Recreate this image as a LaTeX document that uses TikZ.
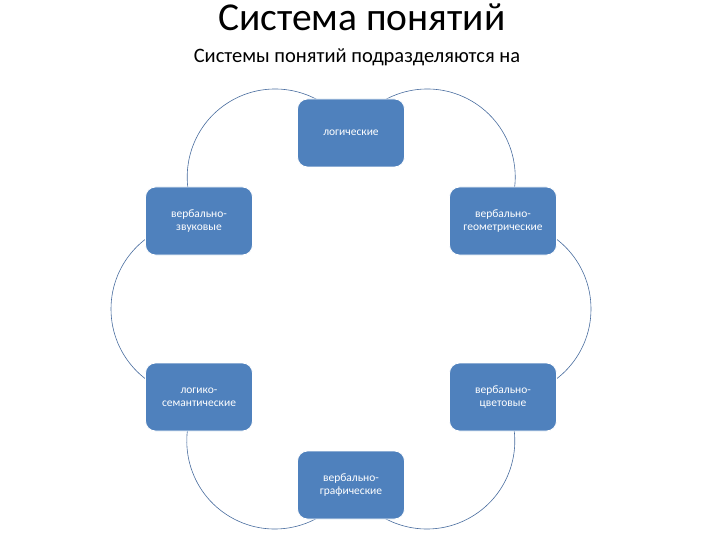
\documentclass[tikz,border=0pt]{standalone}
\usepackage{fontspec}
\setmainfont{Carlito}
\usetikzlibrary{backgrounds}
\definecolor{boxblue}{RGB}{79,129,189}
\definecolor{arcblue}{RGB}{72,108,158}
\tikzset{
  conceptbox/.style={draw=white, line width=0.8pt, fill=boxblue, rounded corners=10pt,
    minimum width=107pt, minimum height=68pt, text=white, align=center, inner sep=2pt,
    font=\fontsize{11.5}{13}\selectfont},
  cyclearc/.style={draw=arcblue, line width=0.6pt}
}
\begin{document}
\begin{tikzpicture}[x=1pt,y=-1pt]
\useasboundingbox (0,0) rectangle (720,540);
\node[anchor=base] (title) at (362,31) {\fontsize{39.5}{42}\selectfont Система понятий};
\node[anchor=base] (subtitle) at (357,63) {\fontsize{20.5}{23}\selectfont Системы понятий подразделяются на};
\node[conceptbox] (log) at (351,133) {логические};
\node[conceptbox] (zv) at (199,221) {вербально-\\звуковые};
\node[conceptbox] (geo) at (503,221) {вербально-\\геометрические};
\node[conceptbox] (sem) at (199,397) {логико-\\семантические};
\node[conceptbox] (cv) at (503,397) {вербально-\\цветовые};
\node[conceptbox] (gr) at (351,485) {вербально-\\графические};
\begin{scope}[on background layer]
\draw[cyclearc] (zv.center) arc[start angle=150, end angle=330, radius=88];
\draw[cyclearc] (log.center) arc[start angle=210, end angle=390, radius=88];
\draw[cyclearc] (geo.center) arc[start angle=270, end angle=450, radius=88];
\draw[cyclearc] (cv.center) arc[start angle=-30, end angle=150, radius=88];
\draw[cyclearc] (gr.center) arc[start angle=30, end angle=210, radius=88];
\draw[cyclearc] (sem.center) arc[start angle=90, end angle=270, radius=88];
\end{scope}
\end{tikzpicture}
\end{document}
